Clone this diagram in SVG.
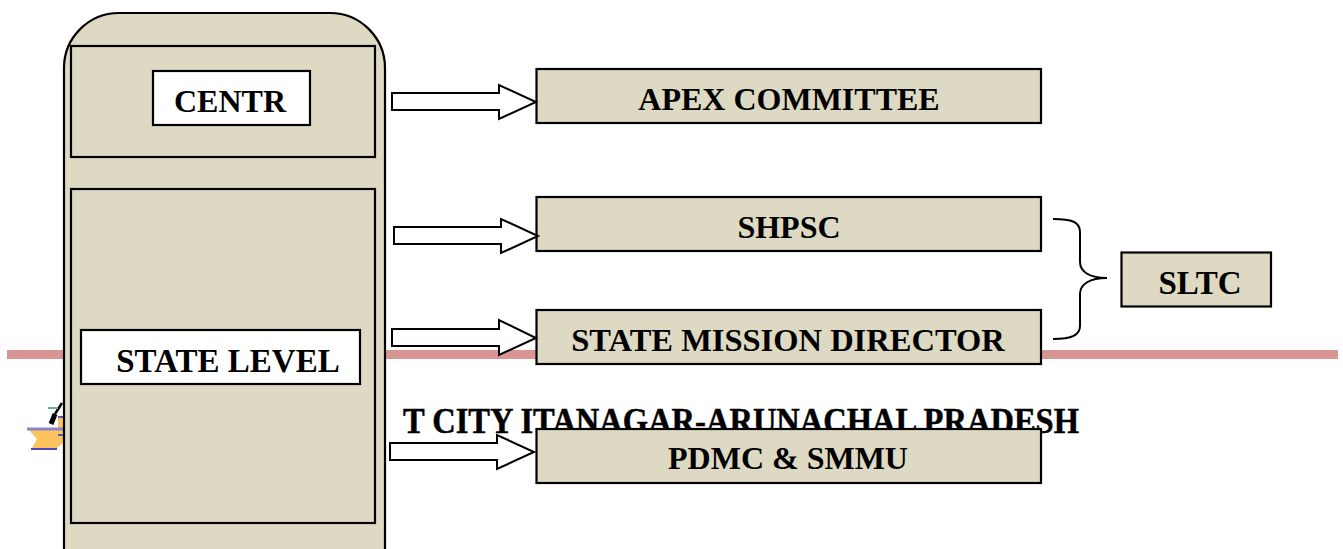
<svg xmlns="http://www.w3.org/2000/svg" width="1343" height="549" viewBox="0 0 1343 549">
<style>
.box{fill:#ddd9c3;stroke:#000;stroke-width:2.2}
.white{fill:#fff;stroke:#000;stroke-width:2.2}
.arrow{fill:#fff;stroke:#000;stroke-width:2}
.t{font-family:"Liberation Serif",serif;font-weight:bold;font-size:32px;fill:#000;text-anchor:middle}
.lg{font-size:32.5px}
.xl{font-size:33px}
</style>
<rect x="7" y="350" width="1331" height="9" fill="#d99594"/>
<g id="logo">
<path d="M29 430H58V417H64V442L57 448H32L37 439Z" fill="#fcc35f"/>
<path d="M27 429H64" stroke="#8a86cc" stroke-width="3" fill="none"/>
<path d="M58 417H64M58 435H64" stroke="#5555bb" stroke-width="2" fill="none"/>
<path d="M31 449H57" stroke="#4a4ac0" stroke-width="2" fill="none"/>
<path d="M51 424L55 414" stroke="#000" stroke-width="5" fill="none"/>
<path d="M55 414L62 403" stroke="#000" stroke-width="2.5" fill="none"/>
<path d="M48 408H58" stroke="#6fae8c" stroke-width="2" fill="none"/>
</g>
<text id="banner" x="741" y="433" font-family="'Liberation Serif',serif" font-weight="bold" font-size="35" text-anchor="middle" textLength="676" lengthAdjust="spacingAndGlyphs" stroke="#000" stroke-width="0.5">T CITY ITANAGAR-ARUNACHAL PRADESH</text>
<g id="level-column"><path class="box" d="M64 549V68A55 55 0 0 1 119 13H330A55 55 0 0 1 385 68V549"/></g>
<g id="centre-panel"><rect class="box" x="71" y="46" width="304" height="111"/></g>
<g id="state-panel"><rect class="box" x="71" y="189" width="304" height="334"/></g>
<g id="centre-label"><rect class="white" x="153" y="71" width="157" height="54"/><text class="t" x="230" y="112">CENTR</text></g>
<g id="state-label"><rect class="white" x="81" y="330" width="279" height="54"/><text class="t xl" x="228" y="372">STATE LEVEL</text></g>
<g id="apex"><rect class="box" x="536.5" y="69" width="504.5" height="54"/><text class="t" x="789" y="110">APEX COMMITTEE</text></g>
<g id="shpsc"><rect class="box" x="536.5" y="197" width="504.5" height="54"/><text class="t" x="789" y="238">SHPSC</text></g>
<g id="smd"><rect class="box" x="536.5" y="310" width="504.5" height="54"/><text class="t lg" x="788" y="351">STATE MISSION DIRECTOR</text></g>
<g id="pdmc"><rect class="box" x="536.5" y="429" width="504.5" height="54"/><text class="t" x="788" y="469">PDMC &amp; SMMU</text></g>
<g id="sltc"><rect class="box" x="1121.5" y="252.500" width="149.500" height="54"/><text class="t xl" x="1200" y="294">SLTC</text></g>
<g id="connectors">
<path class="arrow" d="M392 93H499V85L536 102L499 119V110H392Z"/>
<path class="arrow" d="M394 227H501V219L538 236L501 253V244H394Z"/>
<path class="arrow" d="M392 329H499V320L536 338L499 355V346H392Z"/>
<path class="arrow" d="M390 443H497V435L534 452L497 469V460H390Z"/>
<path d="M1053 219C1072 219 1080 222 1080 232V262C1080 272 1090 278 1107 278C1090 278 1080 284 1080 294V326C1080 335 1072 339 1053 339" fill="none" stroke="#000" stroke-width="2"/>
</g>
</svg>
